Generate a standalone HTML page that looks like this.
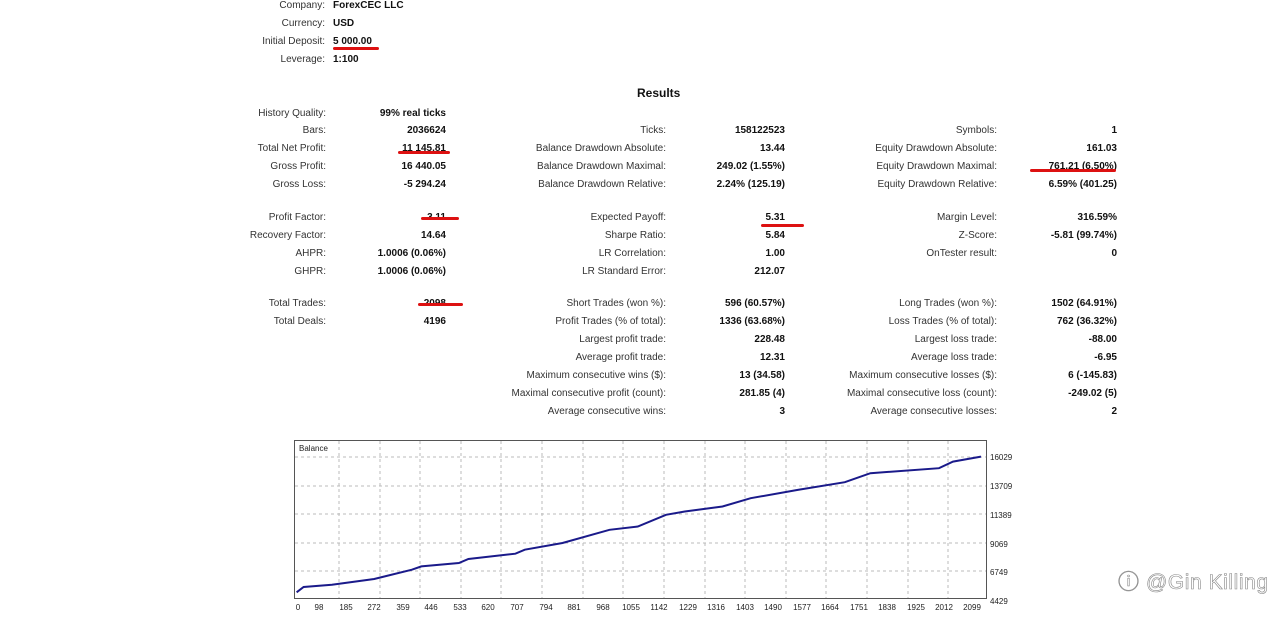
<!DOCTYPE html>
<html><head><meta charset="utf-8"><style>
body{margin:0;width:1280px;height:622px;background:#fff;position:relative;overflow:hidden;font-family:"Liberation Sans",Tahoma,sans-serif;font-size:10px;color:#333}
.l,.v,.t{position:absolute;white-space:nowrap;line-height:12px;margin-top:2px}
.v,.t{font-weight:bold;color:#111}
.u{position:absolute;height:3px;background:#d11;border-radius:2px}
</style></head><body>
<div class="l" style="right:955px;top:-2px">Company:</div><div class="t" style="left:333px;top:-2px">ForexCEC LLC</div>
<div class="l" style="right:955px;top:16px">Currency:</div><div class="t" style="left:333px;top:16px">USD</div>
<div class="l" style="right:955px;top:34px">Initial Deposit:</div><div class="t" style="left:333px;top:34px">5 000.00</div>
<div class="l" style="right:955px;top:52px">Leverage:</div><div class="t" style="left:333px;top:52px">1:100</div>
<div class="u" style="left:333px;top:47px;width:46px"></div>
<div class="t" style="left:637px;top:85px;font-size:12px">Results</div>

<div class="l" style="right:954px;top:106px">History Quality:</div><div class="v" style="right:834px;top:106px">99% real ticks</div>
<div class="l" style="right:954px;top:123px">Bars:</div><div class="v" style="right:834px;top:123px">2036624</div>
<div class="l" style="right:954px;top:141px">Total Net Profit:</div><div class="v" style="right:834px;top:141px">11 145.81</div>
<div class="l" style="right:954px;top:159px">Gross Profit:</div><div class="v" style="right:834px;top:159px">16 440.05</div>
<div class="l" style="right:954px;top:177px">Gross Loss:</div><div class="v" style="right:834px;top:177px">-5 294.24</div>
<div class="l" style="right:954px;top:210px">Profit Factor:</div><div class="v" style="right:834px;top:210px">3.11</div>
<div class="l" style="right:954px;top:228px">Recovery Factor:</div><div class="v" style="right:834px;top:228px">14.64</div>
<div class="l" style="right:954px;top:246px">AHPR:</div><div class="v" style="right:834px;top:246px">1.0006 (0.06%)</div>
<div class="l" style="right:954px;top:264px">GHPR:</div><div class="v" style="right:834px;top:264px">1.0006 (0.06%)</div>
<div class="l" style="right:954px;top:296px">Total Trades:</div><div class="v" style="right:834px;top:296px">2098</div>
<div class="l" style="right:954px;top:314px">Total Deals:</div><div class="v" style="right:834px;top:314px">4196</div>
<div class="u" style="left:398px;top:151px;width:52px"></div>
<div class="u" style="left:421px;top:217px;width:38px"></div>
<div class="u" style="left:418px;top:303px;width:45px"></div>

<div class="l" style="right:614px;top:123px">Ticks:</div><div class="v" style="right:495px;top:123px">158122523</div>
<div class="l" style="right:614px;top:141px">Balance Drawdown Absolute:</div><div class="v" style="right:495px;top:141px">13.44</div>
<div class="l" style="right:614px;top:159px">Balance Drawdown Maximal:</div><div class="v" style="right:495px;top:159px">249.02 (1.55%)</div>
<div class="l" style="right:614px;top:177px">Balance Drawdown Relative:</div><div class="v" style="right:495px;top:177px">2.24% (125.19)</div>
<div class="l" style="right:614px;top:210px">Expected Payoff:</div><div class="v" style="right:495px;top:210px">5.31</div>
<div class="l" style="right:614px;top:228px">Sharpe Ratio:</div><div class="v" style="right:495px;top:228px">5.84</div>
<div class="l" style="right:614px;top:246px">LR Correlation:</div><div class="v" style="right:495px;top:246px">1.00</div>
<div class="l" style="right:614px;top:264px">LR Standard Error:</div><div class="v" style="right:495px;top:264px">212.07</div>
<div class="l" style="right:614px;top:296px">Short Trades (won %):</div><div class="v" style="right:495px;top:296px">596 (60.57%)</div>
<div class="l" style="right:614px;top:314px">Profit Trades (% of total):</div><div class="v" style="right:495px;top:314px">1336 (63.68%)</div>
<div class="l" style="right:614px;top:332px">Largest profit trade:</div><div class="v" style="right:495px;top:332px">228.48</div>
<div class="l" style="right:614px;top:350px">Average profit trade:</div><div class="v" style="right:495px;top:350px">12.31</div>
<div class="l" style="right:614px;top:368px">Maximum consecutive wins ($):</div><div class="v" style="right:495px;top:368px">13 (34.58)</div>
<div class="l" style="right:614px;top:386px">Maximal consecutive profit (count):</div><div class="v" style="right:495px;top:386px">281.85 (4)</div>
<div class="l" style="right:614px;top:404px">Average consecutive wins:</div><div class="v" style="right:495px;top:404px">3</div>
<div class="u" style="left:761px;top:224px;width:43px"></div>

<div class="l" style="right:283px;top:123px">Symbols:</div><div class="v" style="right:163px;top:123px">1</div>
<div class="l" style="right:283px;top:141px">Equity Drawdown Absolute:</div><div class="v" style="right:163px;top:141px">161.03</div>
<div class="l" style="right:283px;top:159px">Equity Drawdown Maximal:</div><div class="v" style="right:163px;top:159px">761.21 (6.50%)</div>
<div class="l" style="right:283px;top:177px">Equity Drawdown Relative:</div><div class="v" style="right:163px;top:177px">6.59% (401.25)</div>
<div class="l" style="right:283px;top:210px">Margin Level:</div><div class="v" style="right:163px;top:210px">316.59%</div>
<div class="l" style="right:283px;top:228px">Z-Score:</div><div class="v" style="right:163px;top:228px">-5.81 (99.74%)</div>
<div class="l" style="right:283px;top:246px">OnTester result:</div><div class="v" style="right:163px;top:246px">0</div>
<div class="l" style="right:283px;top:296px">Long Trades (won %):</div><div class="v" style="right:163px;top:296px">1502 (64.91%)</div>
<div class="l" style="right:283px;top:314px">Loss Trades (% of total):</div><div class="v" style="right:163px;top:314px">762 (36.32%)</div>
<div class="l" style="right:283px;top:332px">Largest loss trade:</div><div class="v" style="right:163px;top:332px">-88.00</div>
<div class="l" style="right:283px;top:350px">Average loss trade:</div><div class="v" style="right:163px;top:350px">-6.95</div>
<div class="l" style="right:283px;top:368px">Maximum consecutive losses ($):</div><div class="v" style="right:163px;top:368px">6 (-145.83)</div>
<div class="l" style="right:283px;top:386px">Maximal consecutive loss (count):</div><div class="v" style="right:163px;top:386px">-249.02 (5)</div>
<div class="l" style="right:283px;top:404px">Average consecutive losses:</div><div class="v" style="right:163px;top:404px">2</div>
<div class="u" style="left:1030px;top:169px;width:86px"></div>

<svg style="position:absolute;left:0;top:0" width="1280" height="622">
<rect x="294.5" y="440.5" width="692" height="158" fill="#fff" stroke="#555"/>
<g stroke="#bbb" stroke-dasharray="3,3" fill="none">
<path d="M339 441V598M380 441V598M420 441V598M461 441V598M501 441V598M542 441V598M583 441V598M623 441V598M664 441V598M705 441V598M745 441V598M786 441V598M826 441V598M867 441V598M908 441V598M948 441V598"/>
<path d="M295 457H986M295 486H986M295 514H986M295 543H986M295 571H986"/>
</g>
<polyline fill="none" stroke="#1a1a8a" stroke-width="2" points="296.6,592.3 303.6,587 331.9,584.7 374.2,579 411.9,569.7 421.3,566.4 458.9,563 468.4,559 515.4,553.7 524.8,549.7 562.5,543 609.5,529.8 637.8,526.5 666,514.8 684.8,511.5 722.5,506.5 750.7,498.2 797.8,489.9 844.8,482.2 870.4,473.2 939,468.2 953,461.6 981,456.6"/>
<g font-family="Liberation Sans,sans-serif" font-size="8" fill="#222">
<text x="299" y="451">Balance</text>
<text x="990" y="460">16029</text><text x="990" y="489">13709</text><text x="990" y="518">11389</text><text x="990" y="547">9069</text><text x="990" y="575">6749</text><text x="990" y="604">4429</text>
<g text-anchor="middle">
<text x="298" y="610">0</text><text x="319" y="610">98</text><text x="346" y="610">185</text><text x="374" y="610">272</text><text x="403" y="610">359</text><text x="431" y="610">446</text><text x="460" y="610">533</text><text x="488" y="610">620</text><text x="517" y="610">707</text><text x="546" y="610">794</text><text x="574" y="610">881</text><text x="603" y="610">968</text><text x="631" y="610">1055</text><text x="659" y="610">1142</text><text x="688" y="610">1229</text><text x="716" y="610">1316</text><text x="745" y="610">1403</text><text x="773" y="610">1490</text><text x="802" y="610">1577</text><text x="830" y="610">1664</text><text x="859" y="610">1751</text><text x="887" y="610">1838</text><text x="916" y="610">1925</text><text x="944" y="610">2012</text><text x="972" y="610">2099</text>
</g></g>
<text x="1118" y="589" font-family="Liberation Sans,sans-serif" font-size="21" fill="#fff" stroke="#888" stroke-width="0.6" textLength="150">ⓘ @Gin Killing</text>
</svg>
</body></html>
